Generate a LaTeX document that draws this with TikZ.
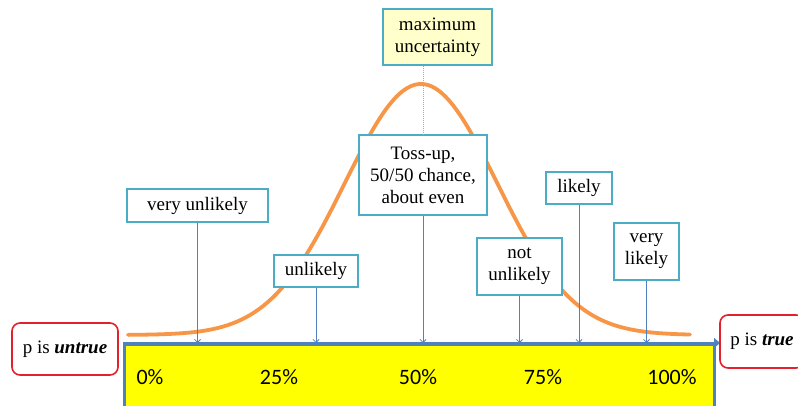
\documentclass[tikz,border=0pt]{standalone}
\usepackage{fontspec}
\setmainfont{Liberation Serif}
\newfontfamily\labelserif{Liberation Serif}
\newfontfamily\pctfont{Carlito}
\usetikzlibrary{arrows.meta,calc}

\definecolor{boxcyan}{RGB}{75,172,198}
\definecolor{barblue}{RGB}{79,129,189}
\definecolor{curveorange}{RGB}{247,150,70}
\definecolor{endred}{RGB}{228,32,44}
\definecolor{notefill}{RGB}{255,255,204}
\definecolor{baryellow}{RGB}{255,255,0}

\tikzset{
  labelfont/.style={font=\labelserif\fontsize{19}{22}\selectfont},
  termbox/.style={draw=boxcyan, line width=1.6pt, fill=white, inner sep=0pt,
    align=center, labelfont},
  endbox/.style={draw=endred, line width=1.6pt, fill=white, rounded corners=8pt,
    inner sep=0pt, labelfont},
  pointer/.style={draw=barblue, line width=0.8pt, -{Straight Barb[length=3pt,width=6pt]}},
  pct/.style={font=\pctfont\fontsize{22}{26}\selectfont, inner sep=0pt},
}

\begin{document}
\begin{tikzpicture}[x=1pt,y=-1pt]
\useasboundingbox (0,0) rectangle (798,406);

% probability scale bar
\node[draw=barblue, line width=2.6pt, fill=baryellow, minimum width=590pt,
      minimum height=72pt, anchor=north west, inner sep=0pt] (bar) at (123,343) {};
\coordinate (axisend) at (720,343);
\draw[barblue, line width=2.6pt, -{Triangle[length=6pt,width=10pt]}] (bar.north west) -- (axisend);

% percentage ticks
\node[pct] (p0)   at (150,377) {0\%};
\node[pct] (p25)  at (279,377) {25\%};
\node[pct] (p50)  at (418,377) {50\%};
\node[pct] (p75)  at (543,377) {75\%};
\node[pct] (p100) at (672,377) {100\%};

% bell curve of uncertainty
\draw[curveorange, line width=3.8pt, line cap=round]
  plot[domain=128:690, samples=160, smooth]
  (\x, {335-251*exp(-0.5*((\x-421)/76)^2)});

% maximum uncertainty note
\node[draw=boxcyan, line width=1.6pt, fill=notefill, inner sep=0pt, align=center,
      minimum width=109pt, minimum height=56pt, labelfont] (maxu) at (437.5,37) {maximum\\uncertainty};

% likelihood terms
\node[termbox, minimum width=141pt, minimum height=33pt] (vu)   at (197.5,205.5) {very unlikely};
\node[termbox, minimum width=84pt,  minimum height=32pt] (ul)   at (316,271)     {unlikely};
\node[termbox, minimum width=128pt, minimum height=80pt] (toss) at (423,175)     {Toss-up,\\50/50 chance,\\about even};
\node[termbox, minimum width=85pt,  minimum height=57pt] (nu)   at (519.5,266.5) {not\\unlikely};
\node[termbox, minimum width=66pt,  minimum height=32pt] (lk)   at (579,188)     {likely};
\node[termbox, minimum width=65pt,  minimum height=57pt] (vl)   at (646.5,251.5) {very\\likely};

% peak marker
\draw[curveorange, line width=0.8pt, dash pattern=on 1pt off 1pt]
  (maxu.south -| toss.south) -- (toss.north);
\draw[curveorange, line width=0.8pt, dash pattern=on 1pt off 1pt]
  (toss.south) -- (bar.north -| toss.south);

% pointers onto the scale
\foreach \n in {vu,ul,toss,nu,lk,vl}
  \draw[pointer] (\n.south) -- (\n.south |- bar.north);

% end points of the scale
\node[endbox, minimum width=106pt, minimum height=52pt] (untrue) at (65,349) {p is \textbf{\textit{untrue}}};
\node[endbox, minimum width=84pt,  minimum height=53pt] (true)   at (762,341.5) {p is \textbf{\textit{true}}\hspace{3pt}};
\end{tikzpicture}
\end{document}
